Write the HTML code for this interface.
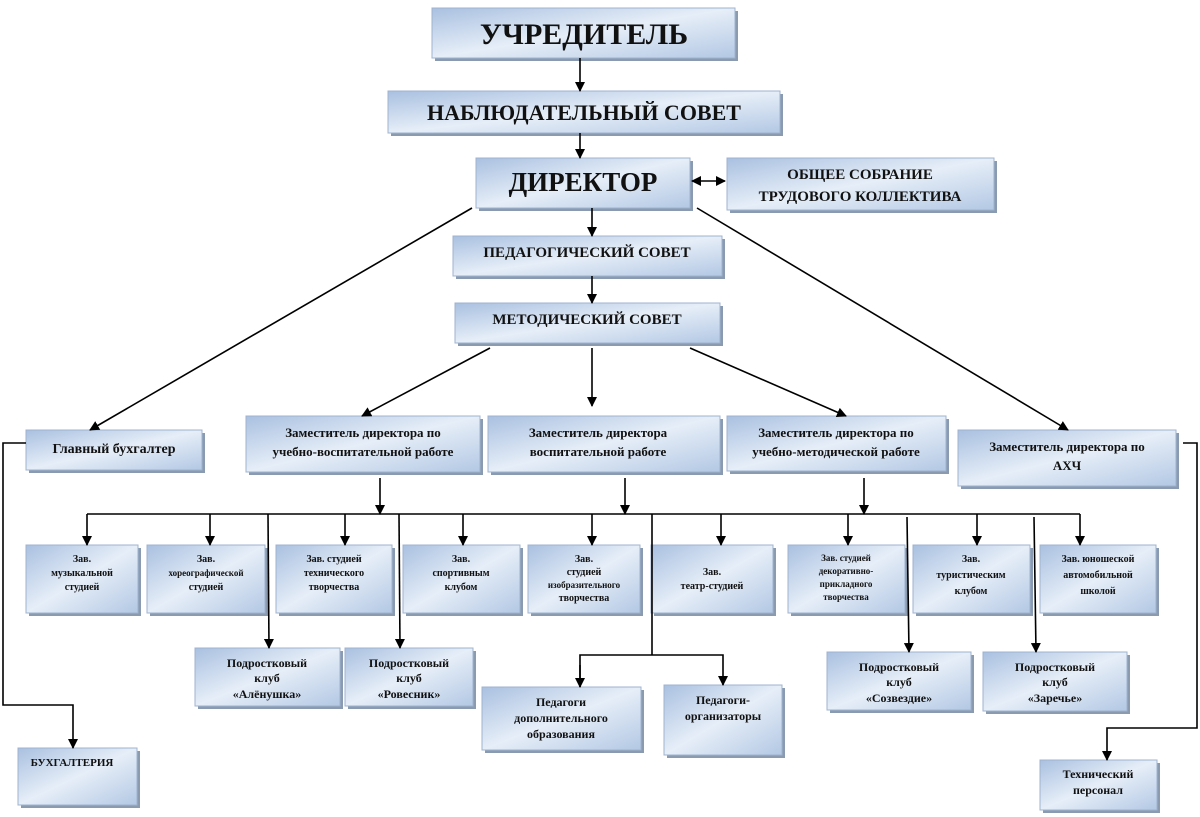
<!DOCTYPE html>
<html><head><meta charset="utf-8">
<style>
html,body{margin:0;padding:0;background:#fff;}
svg{display:block;}
text{font-family:"Liberation Serif",serif;font-weight:bold;fill:#111;text-anchor:middle;}
</style></head>
<body>
<svg width="1200" height="817" viewBox="0 0 1200 817" xmlns="http://www.w3.org/2000/svg">
<defs>
<linearGradient id="g" x1="0" y1="0" x2="1" y2="1">
<stop offset="0" stop-color="#a9c0e0"/>
<stop offset="0.5" stop-color="#e6eef8"/>
<stop offset="1" stop-color="#b3c8e4"/>
</linearGradient>
<marker id="a" markerWidth="10" markerHeight="10" refX="9" refY="5" orient="auto" markerUnits="userSpaceOnUse">
<path d="M0,0 L10,5 L0,10 Z" fill="#000"/>
</marker>
<marker id="as" markerWidth="10" markerHeight="10" refX="1" refY="5" orient="auto" markerUnits="userSpaceOnUse">
<path d="M10,0 L0,5 L10,10 Z" fill="#000"/>
</marker>
</defs>
<g id="boxes">
<g fill="#8a9bb0">
<rect x="435" y="11" width="303" height="50"/><rect x="391" y="94" width="392" height="42"/>
<rect x="479" y="161" width="214" height="50"/><rect x="730" y="161" width="267" height="52"/>
<rect x="456" y="239" width="269" height="40"/><rect x="458" y="306" width="265" height="40"/>
<rect x="29" y="433" width="176" height="40"/><rect x="249" y="419" width="234" height="56"/>
<rect x="491" y="419" width="232" height="56"/><rect x="730" y="419" width="219" height="55"/>
<rect x="961" y="433" width="218" height="56"/>
<rect x="29" y="548" width="112" height="68"/><rect x="150" y="548" width="118" height="68"/>
<rect x="279" y="548" width="116" height="68"/><rect x="406" y="548" width="117" height="68"/>
<rect x="531" y="548" width="112" height="68"/><rect x="654" y="548" width="122" height="68"/>
<rect x="791" y="548" width="117" height="68"/><rect x="916" y="548" width="117" height="68"/>
<rect x="1043" y="548" width="116" height="68"/>
<rect x="198" y="651" width="145" height="58"/><rect x="348" y="651" width="128" height="58"/>
<rect x="830" y="655" width="144" height="58"/><rect x="986" y="655" width="144" height="59"/>
<rect x="485" y="690" width="159" height="63"/><rect x="667" y="688" width="118" height="70"/>
<rect x="21" y="751" width="119" height="57"/><rect x="1043" y="763" width="117" height="50"/>
</g>
<g fill="url(#g)" stroke="#9fb3cf" stroke-width="1">
<rect x="432" y="8" width="303" height="50"/><rect x="388" y="91" width="392" height="42"/>
<rect x="476" y="158" width="214" height="50"/><rect x="727" y="158" width="267" height="52"/>
<rect x="453" y="236" width="269" height="40"/><rect x="455" y="303" width="265" height="40"/>
<rect x="26" y="430" width="176" height="40"/><rect x="246" y="416" width="234" height="56"/>
<rect x="488" y="416" width="232" height="56"/><rect x="727" y="416" width="219" height="55"/>
<rect x="958" y="430" width="218" height="56"/>
<rect x="26" y="545" width="112" height="68"/><rect x="147" y="545" width="118" height="68"/>
<rect x="276" y="545" width="116" height="68"/><rect x="403" y="545" width="117" height="68"/>
<rect x="528" y="545" width="112" height="68"/><rect x="651" y="545" width="122" height="68"/>
<rect x="788" y="545" width="117" height="68"/><rect x="913" y="545" width="117" height="68"/>
<rect x="1040" y="545" width="116" height="68"/>
<rect x="195" y="648" width="145" height="58"/><rect x="345" y="648" width="128" height="58"/>
<rect x="827" y="652" width="144" height="58"/><rect x="983" y="652" width="144" height="59"/>
<rect x="482" y="687" width="159" height="63"/><rect x="664" y="685" width="118" height="70"/>
<rect x="18" y="748" width="119" height="57"/><rect x="1040" y="760" width="117" height="50"/>
</g>
</g>
<g stroke="#000" stroke-width="1.6" fill="none">
<line x1="580" y1="58" x2="580" y2="91" marker-end="url(#a)"/>
<line x1="580" y1="133" x2="580" y2="158" marker-end="url(#a)"/>
<line x1="592" y1="208" x2="592" y2="236" marker-end="url(#a)"/>
<line x1="592" y1="276" x2="592" y2="303" marker-end="url(#a)"/>
<line x1="692" y1="181" x2="725" y2="181" marker-end="url(#a)" marker-start="url(#as)"/>
<line x1="472" y1="208" x2="90" y2="430" marker-end="url(#a)"/>
<line x1="697" y1="208" x2="1068" y2="430" marker-end="url(#a)"/>
<line x1="490" y1="348" x2="362" y2="416" marker-end="url(#a)"/>
<line x1="592" y1="348" x2="592" y2="406" marker-end="url(#a)"/>
<line x1="690" y1="348" x2="846" y2="416" marker-end="url(#a)"/>
<line x1="87" y1="514" x2="1080" y2="514"/>
<line x1="380" y1="478" x2="380" y2="514" marker-end="url(#a)"/>
<line x1="625" y1="478" x2="625" y2="514" marker-end="url(#a)"/>
<line x1="864" y1="478" x2="864" y2="514" marker-end="url(#a)"/>
<line x1="87" y1="514" x2="87" y2="545" marker-end="url(#a)"/>
<line x1="210" y1="514" x2="210" y2="545" marker-end="url(#a)"/>
<line x1="345" y1="514" x2="345" y2="545" marker-end="url(#a)"/>
<line x1="463" y1="514" x2="463" y2="545" marker-end="url(#a)"/>
<line x1="592" y1="514" x2="592" y2="545" marker-end="url(#a)"/>
<line x1="721" y1="514" x2="721" y2="545" marker-end="url(#a)"/>
<line x1="848" y1="514" x2="848" y2="545" marker-end="url(#a)"/>
<line x1="977" y1="514" x2="977" y2="545" marker-end="url(#a)"/>
<line x1="1080" y1="514" x2="1080" y2="545" marker-end="url(#a)"/>
<line x1="268" y1="514" x2="269" y2="648" marker-end="url(#a)"/>
<line x1="399" y1="514" x2="400" y2="648" marker-end="url(#a)"/>
<line x1="907" y1="517" x2="909" y2="652" marker-end="url(#a)"/>
<line x1="1034" y1="517" x2="1036" y2="652" marker-end="url(#a)"/>
<polyline points="652,514 652,655"/>
<polyline points="580,687 580,655 723,655 723,685" marker-end="url(#a)"/>
<line x1="580" y1="665" x2="580" y2="687" marker-end="url(#a)"/>
<polyline points="26,443 3,443 3,705 73,705 73,748" marker-end="url(#a)"/>
<polyline points="1183,443 1197,443 1197,728 1107,728 1107,760" marker-end="url(#a)"/>
</g>
<text x="584" y="44" font-size="30">УЧРЕДИТЕЛЬ</text>
<text x="584" y="120" font-size="22">НАБЛЮДАТЕЛЬНЫЙ СОВЕТ</text>
<text x="583" y="191" font-size="27">ДИРЕКТОР</text>
<text x="860" y="179" font-size="15">ОБЩЕЕ СОБРАНИЕ</text>
<text x="860" y="201" font-size="15">ТРУДОВОГО КОЛЛЕКТИВА</text>
<text x="587" y="257" font-size="15">ПЕДАГОГИЧЕСКИЙ СОВЕТ</text>
<text x="587" y="324" font-size="15">МЕТОДИЧЕСКИЙ СОВЕТ</text>
<text x="114" y="453" font-size="14">Главный бухгалтер</text>
<text x="363" y="437" font-size="13">Заместитель директора по</text>
<text x="363" y="456" font-size="13">учебно-воспитательной работе</text>
<text x="598" y="437" font-size="13">Заместитель директора</text>
<text x="598" y="456" font-size="13">воспитательной работе</text>
<text x="836" y="437" font-size="13">Заместитель директора по</text>
<text x="836" y="456" font-size="13">учебно-методической работе</text>
<text x="1067" y="451" font-size="13">Заместитель директора по</text>
<text x="1067" y="470" font-size="13">АХЧ</text>
<g font-size="10">
<text x="82" y="562">Зав.</text><text x="82" y="576">музыкальной</text><text x="82" y="590">студией</text>
<text x="206" y="562">Зав.</text><text x="206" y="576" font-size="9">хореографической</text><text x="206" y="590">студией</text>
<text x="334" y="562">Зав. студией</text><text x="334" y="576">технического</text><text x="334" y="590">творчества</text>
<text x="461" y="562">Зав.</text><text x="461" y="576">спортивным</text><text x="461" y="590">клубом</text>
<text x="584" y="562">Зав.</text><text x="584" y="575">студией</text><text x="584" y="588" font-size="9">изобразительного</text><text x="584" y="601">творчества</text>
<text x="712" y="575">Зав.</text><text x="712" y="589">театр-студией</text>
<text x="846" y="561" font-size="9">Зав. студией</text><text x="846" y="574" font-size="9">декоративно-</text><text x="846" y="587" font-size="9">прикладного</text><text x="846" y="600" font-size="9">творчества</text>
<text x="971" y="562">Зав.</text><text x="971" y="578">туристическим</text><text x="971" y="594">клубом</text>
<text x="1098" y="562">Зав. юношеской</text><text x="1098" y="578">автомобильной</text><text x="1098" y="594">школой</text>
</g>
<g font-size="12">
<text x="267" y="667">Подростковый</text><text x="267" y="682">клуб</text><text x="267" y="698">«Алёнушка»</text>
<text x="409" y="667">Подростковый</text><text x="409" y="682">клуб</text><text x="409" y="698">«Ровесник»</text>
<text x="899" y="671">Подростковый</text><text x="899" y="686">клуб</text><text x="899" y="702">«Созвездие»</text>
<text x="1055" y="671">Подростковый</text><text x="1055" y="686">клуб</text><text x="1055" y="702">«Заречье»</text>
<text x="561" y="706">Педагоги</text><text x="561" y="722">дополнительного</text><text x="561" y="738">образования</text>
<text x="723" y="704">Педагоги-</text><text x="723" y="720">организаторы</text>
<text x="72" y="766" font-size="11">БУХГАЛТЕРИЯ</text>
<text x="1098" y="778">Технический</text><text x="1098" y="794">персонал</text>
</g>
</svg>
</body></html>
